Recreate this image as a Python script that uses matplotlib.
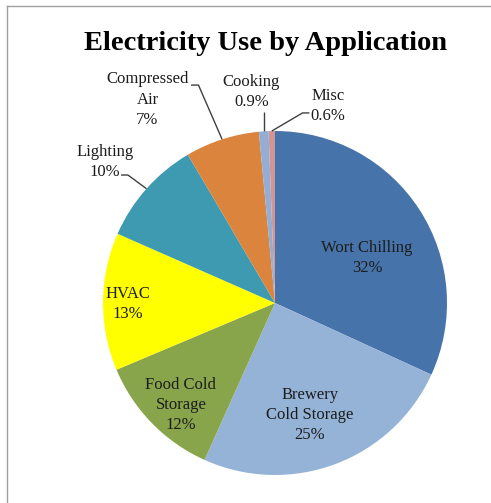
import numpy as np
import matplotlib.pyplot as plt
from matplotlib.lines import Line2D

# Datos del grafico
categorias = ['Wort Chilling', 'Brewery\nCold Storage', 'Food Cold\nStorage', 'HVAC',
              'Lighting', 'Compressed\nAir', 'Cooking', 'Misc']
valores = [32, 25, 12, 13, 10, 7, 0.9, 0.6]
etiquetas_pct = ['32%', '25%', '12%', '13%', '10%', '7%', '0.9%', '0.6%']
colores = ['#4674AA', '#95B3D7', '#88A54C', '#FFFF00', '#3E9AB0', '#DB843D', '#93ADD4', '#D29495']

plt.rcParams['font.family'] = ['Liberation Serif', 'DejaVu Serif']

fig = plt.figure(figsize=(4.91, 5.03), dpi=100)
ax = fig.add_axes([0, 0, 1, 1])

cunas, _ = ax.pie(valores, colors=colores, startangle=90, counterclock=False,
                  wedgeprops=dict(linewidth=0))
ax.set_xlim(-275 / 172, 216 / 172)
ax.set_ylim(-200 / 172, 303 / 172)
ax.axis('off')

color_txt = '#1c1c1c'
fs = 12

# Posiciones de las etiquetas (centro del texto)
pos_txt = [(0.535, 0.26), (0.203, -0.651), (-0.547, -0.593), (-0.855, -0.006),
           (-0.99, 0.82), (-0.741, 1.183), (-0.137, 1.227), (0.308, 1.145)]

for i, (cat, pct) in enumerate(zip(categorias, etiquetas_pct)):
    x, y = pos_txt[i]
    ax.text(x, y, cat + '\n' + pct, ha='center', va='center', fontsize=fs,
            color=color_txt, linespacing=1.35)


def borde(i):
    # punto medio del arco de la cuna i
    c = cunas[i]
    ang = np.deg2rad((c.theta1 + c.theta2) / 2)
    return np.cos(ang), np.sin(ang)


# Lineas guia: puntos de inicio cerca del texto, final en el borde del pastel
guias = {
    4: [(-0.895, 0.744), (-0.855, 0.744)],
    5: [(-0.488, 1.267), (-0.445, 1.267)],
    6: [(-0.070, 1.110)],
    7: [(0.200, 1.105), (0.160, 1.105)],
}
for i, pts in guias.items():
    bx, by = borde(i)
    xs = [p[0] for p in pts] + [bx]
    ys = [p[1] for p in pts] + [by]
    if i == 6:
        xs = [bx, bx]
        ys = [pts[0][1], by]
    ax.plot(xs, ys, color='#404040', linewidth=1.0, solid_capstyle='butt')

fig.text(266 / 491, 1 - 43 / 503, 'Electricity Use by Application', ha='center', va='center',
         fontsize=20.5, fontweight='bold', color='black')

# Marco del grafico
fig.add_artist(Line2D([7 / 491, 1], [1 - 6 / 503, 1 - 6 / 503], color='#A0A0A0', linewidth=1,
                      transform=fig.transFigure))
fig.add_artist(Line2D([7 / 491, 7 / 491], [0, 1 - 6 / 503], color='#A0A0A0', linewidth=1,
                      transform=fig.transFigure))

fig.savefig('out.png', dpi=100)
